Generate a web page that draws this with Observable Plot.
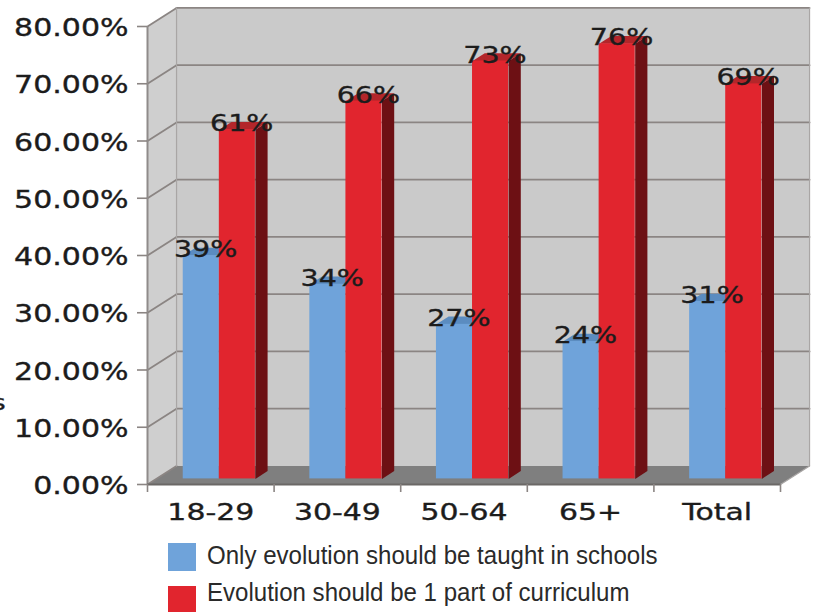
<!DOCTYPE html>
<html>
<head>
<meta charset="utf-8">
<script src="https://cdn.jsdelivr.net/npm/d3@7"></script>
<script src="https://cdn.jsdelivr.net/npm/@observablehq/plot@0.6"></script>
<style>
html,body{margin:0;padding:0;background:#fff;overflow:hidden}
#chart svg{display:block}
#chart svg text{font-family:"DejaVu Sans","Verdana",sans-serif !important;stroke:#1c1c1c;stroke-width:.35px}
.legend{position:relative;height:82px;font-family:"Liberation Sans",Arial,sans-serif;font-size:26px;color:#2a2a2a}
.sw{position:absolute;left:168px;width:28px;height:28px}
.lab{position:absolute;left:207px;transform:scaleX(.925);transform-origin:left center;white-space:nowrap;line-height:30px;height:30px}
</style>
</head>
<body>
<div id="chart"></div>
<div class="legend" id="legend"></div>
<script>
const categories = ["18-29", "30-49", "50-64", "65+", "Total"];
const onlyEvolution = [39, 34, 27, 24, 31];
const onePart = [61, 66, 73, 76, 69];
const seriesNames = ["Only evolution should be taught in schools", "Evolution should be 1 part of curriculum"];
const axisTicks = [0, 10, 20, 30, 40, 50, 60, 70, 80];
const gridValues = [10, 20, 30, 40, 50, 60, 70, 80];
const strayText = ["s"];

const blue = "#6fa3da", blueTop = "#5b8cc0";
const red = "#e1252e", redTop = "#b3262a", redSide = "#6d1014";

// oblique projection: depth d (0 = front, 1 = back wall) shifts data coordinates
const kx = 0.2294, ky = 3.25;
const px = (c, d) => c + d * kx;
const py = (v, d) => v + d * ky;
const barFront = 0.3, barBack = 0.72, barW = 0.285, barStart = 0.2135;

const poly = (id, corners) => corners.map(([c, v, d]) => ({id, x: px(c, d), y: py(v, d)}));
const wallBack = poly("b", [[0,0,1],[5,0,1],[5,80,1],[0,80,1]]);
const wallSide = poly("s", [[0,0,0],[0,0,1],[0,80,1],[0,80,0]]);
const floor = poly("f", [[0,0,0],[5,0,0],[5,0,1],[0,0,1]]);
const gridBack = gridValues.flatMap(v => poly("gb" + v, [[0,v,1],[5,v,1]]));
const gridSide = axisTicks.flatMap(v => poly("gs" + v, [[0,v,0],[0,v,1]]));
const edges = [
  ...poly("e1", [[0,0,1],[0,80,1]]),
  ...poly("e3", [[5,0,1],[5,80,1]]),
  ...poly("e4", [[5,0,0],[5,0,1]])
];

const bars = (values, shift) => values.map((v, i) => ({i, v, c: i + barStart + shift}));
const blueBars = bars(onlyEvolution, 0);
const redBars = bars(onePart, barW);
const topFace = rows => rows.flatMap(r => poly("t" + r.i, [[r.c,r.v,barFront],[r.c+barW,r.v,barFront],[r.c+barW,r.v,barBack],[r.c,r.v,barBack]]));
const sideFace = rows => rows.flatMap(r => poly("r" + r.i, [[r.c+barW,0,barFront],[r.c+barW,r.v,barFront],[r.c+barW,r.v,barBack],[r.c+barW,0,barBack]]));

const face = (rows, fill) => Plot.line(rows, {x: "x", y: "y", z: "id", fill, stroke: "none", curve: "linear"});
const front = (rows, fill) => Plot.rect(rows, {
  x1: r => px(r.c, barFront), x2: r => px(r.c + barW, barFront),
  y1: () => py(0, barFront), y2: r => py(r.v, barFront), fill
});
const labels = rows => Plot.text(rows, {
  x: r => px(r.c + barW / 2, 0.45), y: r => py(r.v, 0.45), text: r => r.v + "%",
  dy: -3, fontSize: 23, fill: "#1c1c1c"
});

const plot = Plot.plot({
  width: 815, height: 530,
  marginLeft: 147, marginRight: 35, marginTop: 26, marginBottom: 46,
  x: {domain: [0, 5]},
  y: {domain: [0, 80]},
  style: {background: "transparent", overflow: "visible"},
  marks: [
    face(wallBack, "#cacaca"),
    face(wallSide, "#cfcfcf"),
    face(floor, "#7f7f7f"),
    Plot.line(gridBack, {x: "x", y: "y", z: "id", stroke: "#8b8583", strokeWidth: 1.8}),
    Plot.line(gridSide, {x: "x", y: "y", z: "id", stroke: "#8b8583", strokeWidth: 1.8}),
    Plot.line(edges, {x: "x", y: "y", z: "id", stroke: "#a9a6a5", strokeWidth: 1.2}),
    Plot.ruleX([0], {y1: 0, y2: 80, stroke: "#8f8b8a", strokeWidth: 2}),
    Plot.ruleY([0], {x1: 0, x2: 5, stroke: "#6b6866", strokeWidth: 2}),
    Plot.axisY({ticks: axisTicks, tickSize: 10, tickFormat: () => "", stroke: "#8b8583", label: null, strokeWidth: 1.6}),
    Plot.axisY({ticks: axisTicks, tickSize: 0, tickPadding: 19, dy: 2, tickFormat: v => v.toFixed(2) + "%",
      fontSize: 24, fill: "#1c1c1c", label: null}),
    Plot.axisX({ticks: [0,1,2,3,4,5], tickSize: 8, tickFormat: () => "", stroke: "#8b8583", label: null, strokeWidth: 1.6}),
    Plot.axisX({ticks: categories.map((c, i) => i + 0.5), tickSize: 0, tickPadding: 19, tickFormat: v => categories[v - 0.5],
      fontSize: 23, fill: "#1c1c1c", label: null}),
    Plot.text(strayText, {x: () => -1.12, y: () => 14.3, text: d => d, textAnchor: "end", fontSize: 22, fill: "#1c1c1c"}),
    face(topFace(blueBars), blueTop),
    front(blueBars, blue),
    face(sideFace(redBars), redSide),
    face(topFace(redBars), redTop),
    front(redBars, red),
    labels(blueBars),
    labels(redBars)
  ]
});
document.getElementById("chart").appendChild(plot);

// the picture's chart text is horizontally stretched
d3.select(plot).selectAll("text").each(function () {
  const len = this.getComputedTextLength();
  if (len > 0) {
    const group = this.parentNode.getAttribute("aria-label") || "";
    const stretch = group.startsWith("y-axis") ? 1.25 : group.startsWith("x-axis") ? 1.3 : 1.24;
    this.setAttribute("textLength", (len * stretch).toFixed(1));
    this.setAttribute("lengthAdjust", "spacingAndGlyphs");
  }
});

const swatchColors = [blue, red];
const swatchTops = [13, 56];
const labelTops = [10, 47];
const legend = d3.select("#legend");
seriesNames.forEach((name, i) => {
  legend.append("div").attr("class", "sw").style("top", swatchTops[i] + "px").style("background", swatchColors[i]);
  legend.append("div").attr("class", "lab").style("top", labelTops[i] + "px").text(name);
});
</script>
</body>
</html>
